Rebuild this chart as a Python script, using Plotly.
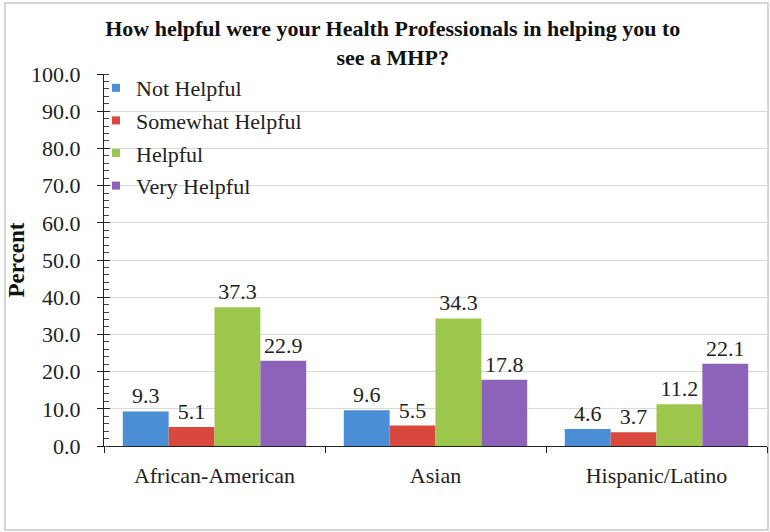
import plotly.graph_objects as go

categories = ["African-American", "Asian", "Hispanic/Latino"]
series_names = ["Not Helpful", "Somewhat Helpful", "Helpful", "Very Helpful"]
not_helpful = [9.3, 9.6, 4.6]
somewhat_helpful = [5.1, 5.5, 3.7]
helpful = [37.3, 34.3, 11.2]
very_helpful = [22.9, 17.8, 22.1]
colors = ["#4a8ed6", "#d8483d", "#9cc74c", "#8d63b9"]

W, H = 770, 532
ML, MR, MT, MB = 104, 3, 74, 86
PW, PH = W - ML - MR, H - MT - MB
FONT = "Liberation Serif, Times New Roman, serif"
FS = 22


def px_x(x):
    return (x - ML) / PW


def px_y(y):
    return (H - MB - y) / PH


fig = go.Figure()
for name, vals, col in zip(series_names,
                           [not_helpful, somewhat_helpful, helpful, very_helpful],
                           colors):
    fig.add_trace(go.Bar(
        x=categories, y=vals, name=name,
        marker=dict(color=col, line=dict(width=0)),
        texttemplate="%{y:.1f}", textposition="outside",
        textfont=dict(family=FONT, size=FS, color="#222"),
        cliponaxis=False, showlegend=False,
    ))
    # small square legend keys
    fig.add_trace(go.Scatter(
        x=[None], y=[None], mode="markers", name=name, legendgroup=name,
        marker=dict(symbol="square", size=8, color=col),
    ))

fig.update_layout(
    width=W, height=H,
    margin=dict(l=ML, r=MR, t=MT, b=MB),
    paper_bgcolor="white", plot_bgcolor="white",
    barmode="group", bargap=0.17, bargroupgap=0,
    font=dict(family=FONT, size=FS, color="#222"),
    title=dict(
        text="<b>How helpful were your Health Professionals in helping you to<br>see a MHP?</b>",
        x=0.51, xanchor="center", y=1 - 36 / H, yanchor="top",
        font=dict(family=FONT, size=22, color="#111"),
    ),
    legend=dict(
        x=px_x(96), y=px_y(67), xanchor="left", yanchor="top",
        bgcolor="rgba(0,0,0,0)", font=dict(family=FONT, size=FS, color="#222"),
        tracegroupgap=1, itemwidth=30,
    ),
    xaxis=dict(
        showline=True, linecolor="#222", linewidth=1,
        ticks="outside", ticklen=6, tickcolor="#222", tickson="boundaries",
        tickfont=dict(family=FONT, size=FS, color="#222"),
        ticklabelstandoff=10,
        showgrid=False,
    ),
    yaxis=dict(
        range=[0, 100], dtick=10, tickformat=".1f",
        showline=True, linecolor="#222", linewidth=1,
        ticks="outside", ticklen=6, tickcolor="#222",
        ticklabelstandoff=12,
        minor=dict(dtick=2, ticks="inside", ticklen=5, tickcolor="#444", showgrid=False),
        showgrid=True, gridcolor="#dadada", gridwidth=1,
        tickfont=dict(family=FONT, size=FS, color="#222"),
        title=dict(text="<b>Percent</b>", standoff=0,
                   font=dict(family=FONT, size=23, color="#111")),
        zeroline=False,
    ),
)

# major ticks cross the axis: add inside ticks on an overlay axis
fig.update_layout(yaxis2=dict(
    overlaying="y", range=[0, 100], dtick=10, ticks="inside", ticklen=6,
    tickcolor="#222", showticklabels=False, showgrid=False, zeroline=False,
    showline=False,
))
fig.add_trace(go.Scatter(x=[None], y=[None], yaxis="y2", showlegend=False))

# light frame around the chart
fig.add_shape(type="rect", xref="paper", yref="paper",
              x0=px_x(5), x1=px_x(768), y0=px_y(530), y1=px_y(3),
              line=dict(color="#c8c8c8", width=1.5), layer="below")

fig.write_html("out.html")
